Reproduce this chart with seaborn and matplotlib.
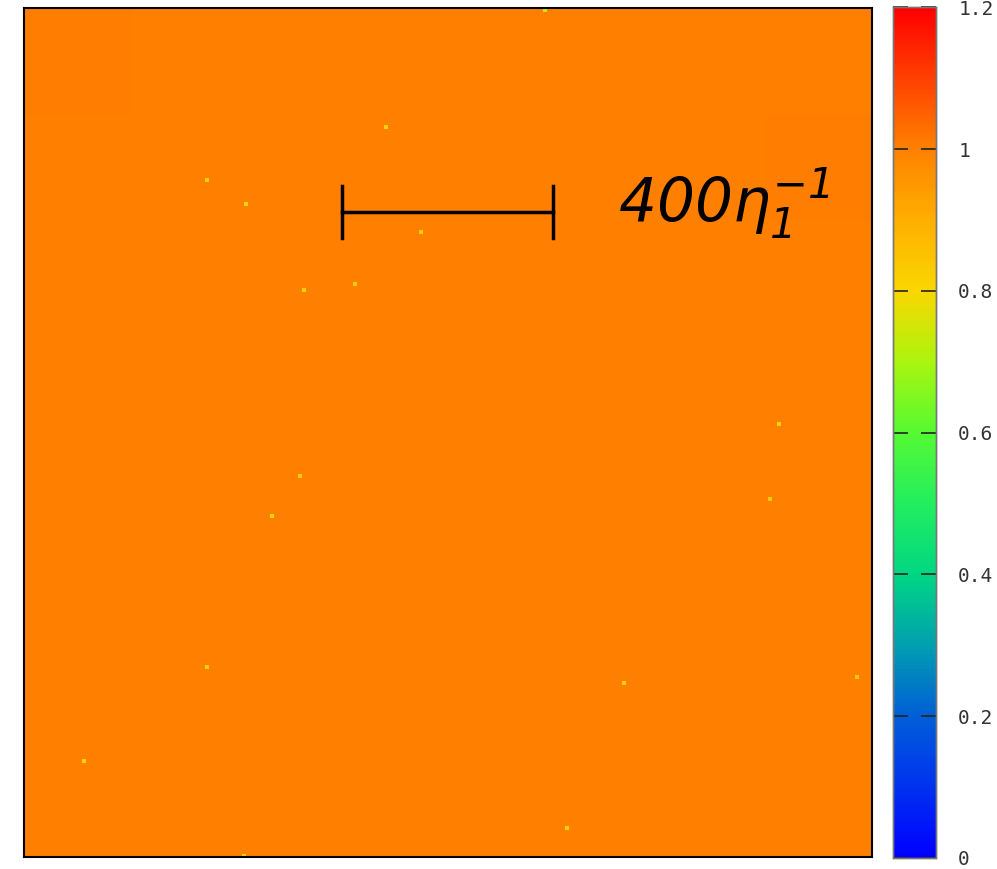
import numpy as np
import matplotlib
matplotlib.use("Agg")
import matplotlib.pyplot as plt
import seaborn as sns
from matplotlib.colors import LinearSegmentedColormap, Normalize

# domain size of the field (in units of 1/eta_1)
domain = 1600

# coarse field, rows from the top (~1.0 everywhere)
field = [
    [1.004, 1.001, 1.000, 1.001, 1.003, 1.001, 1.000, 1.001],
    [1.001, 1.000, 1.001, 1.000, 1.001, 1.000, 1.001, 1.004],
    [1.000, 1.001, 1.000, 1.000, 1.000, 1.001, 1.000, 1.001],
    [1.001, 1.003, 1.001, 1.000, 1.000, 1.000, 1.001, 1.000],
    [1.000, 1.001, 1.001, 1.003, 1.001, 1.000, 1.000, 1.001],
    [1.001, 1.000, 1.003, 1.001, 1.000, 1.001, 1.001, 1.003],
    [1.000, 1.001, 1.001, 1.001, 1.000, 1.000, 1.001, 1.001],
    [1.001, 1.000, 1.001, 1.003, 1.001, 1.000, 1.001, 1.001],
]

# isolated bright spots (x, y from top, value)
spot_x = [983, 683, 345, 419, 749, 528, 625, 1425, 521, 1408, 468, 345, 1132, 1572, 113, 1025, 415]
spot_y = [4, 224, 324, 369, 422, 531, 520, 784, 882, 925, 957, 1242, 1272, 1261, 1419, 1545, 1598]
spot_v = [0.74, 0.81, 0.82, 0.80, 0.82, 0.81, 0.83, 0.81, 0.82, 0.83, 0.80, 0.82, 0.81, 0.83, 0.80, 0.81, 0.78]

# scale bar
bar_x0, bar_x1, bar_y, bar_cap = 600, 998, 384, 49
bar_label = r"$400\eta_{1}^{-1}$"

cbar_ticks = [0, 0.2, 0.4, 0.6, 0.8, 1.0, 1.2]
cbar_labels = ["0", "0.2", "0.4", "0.6", "0.8", "1", "1.2"]

# gnuplot-like palette
palette_pts = [
    (0.0, (0, 0, 255)), (0.1, (0, 50, 240)), (0.2, (0, 95, 215)), (0.3, (0, 160, 175)),
    (0.4, (0, 215, 130)), (0.5, (35, 238, 95)), (0.6, (85, 250, 50)), (0.7, (170, 245, 15)),
    (0.8, (250, 215, 0)), (0.9, (255, 175, 0)), (1.0, (255, 130, 0)), (1.1, (255, 65, 0)),
    (1.2, (255, 0, 0)),
]
cmap = LinearSegmentedColormap.from_list(
    "pal", [(v / 1.2, tuple(c / 255 for c in rgb)) for v, rgb in palette_pts])
norm = Normalize(0, 1.2)

plt.rcParams["mathtext.fontset"] = "custom"
plt.rcParams["mathtext.rm"] = "DejaVu Sans:italic"
plt.rcParams["mathtext.it"] = "DejaVu Sans:italic"

fig = plt.figure(figsize=(9.97, 8.69), dpi=100)
ax = fig.add_axes([0.0241, 0.0138, 0.8506, 0.977])
cax = fig.add_axes([0.8957, 0.0127, 0.0431, 0.979])

grid = np.array(field)
sns.heatmap(grid, ax=ax, cmap=cmap, vmin=0, vmax=1.2, cbar_ax=cax,
            xticklabels=False, yticklabels=False, square=False)

# spots in heatmap cell units
k = grid.shape[1] / domain
sx = np.array(spot_x) * k
sy = np.array(spot_y) * k
sns.scatterplot(x=sx, y=sy, hue=spot_v, palette=cmap, hue_norm=norm, ax=ax,
                marker="s", s=9, linewidth=0, legend=False)

ax.set_xlim(0, grid.shape[1])
ax.set_ylim(grid.shape[0], 0)
ax.set_xticks([])
ax.set_yticks([])
for sp in ax.spines.values():
    sp.set_visible(True)
    sp.set_color("black")
    sp.set_linewidth(1.5)

# scale bar
ax.plot([bar_x0 * k, bar_x1 * k], [bar_y * k, bar_y * k], color="black", lw=2.5)
for xb in (bar_x0, bar_x1):
    ax.plot([xb * k, xb * k], [(bar_y - bar_cap) * k, (bar_y + bar_cap) * k], color="black", lw=2.5)
ax.text(1120 * k, 404 * k, bar_label, fontsize=43, color="black", ha="left", va="baseline")

# colorbar
cax.set_yticks(cbar_ticks)
cax.set_yticklabels(cbar_labels, family="DejaVu Sans Mono", fontsize=14, color="#333333")
cax.tick_params(axis="y", direction="in", left=True, right=True, labelleft=False,
                labelright=True, length=11, width=1.2, color="#222222", pad=16)
cax.yaxis.set_ticks_position("both")
for sp in cax.spines.values():
    sp.set_visible(True)
    sp.set_color("#777777")
    sp.set_linewidth(1)

fig.savefig("out.png", dpi=100)
